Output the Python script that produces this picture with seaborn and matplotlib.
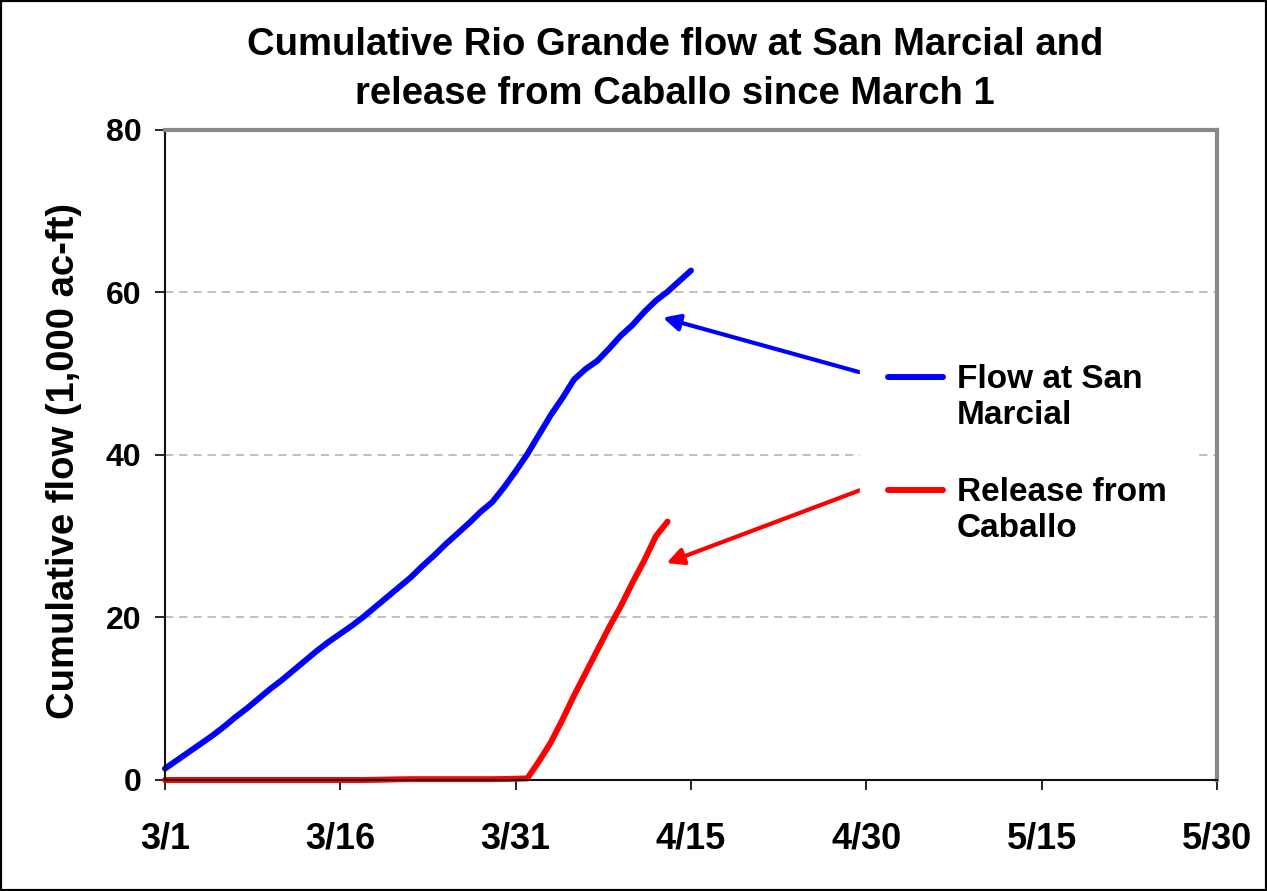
import numpy as np
import pandas as pd
import seaborn as sns
import matplotlib.pyplot as plt
from matplotlib.lines import Line2D
from matplotlib.patches import Rectangle
from matplotlib.legend_handler import HandlerLine2D

# Cumulative flow (1,000 ac-ft), days since March 1
san_marcial_days = list(range(0, 46))
san_marcial_flow = [
    1.4, 2.4, 3.4, 4.4, 5.4, 6.5, 7.7, 8.8, 10.0, 11.2,
    12.3, 13.5, 14.7, 15.9, 17.0, 18.0, 19.0, 20.1, 21.3, 22.5,
    23.7, 24.9, 26.3, 27.6, 29.0, 30.3, 31.6, 33.0, 34.2, 36.0,
    38.0, 40.1, 42.5, 44.9, 47.0, 49.3, 50.6, 51.6, 53.1, 54.7,
    56.0, 57.6, 59.0, 60.1, 61.4, 62.7,
]
caballo_days = list(range(0, 44))
caballo_release = [
    0, 0, 0, 0, 0, 0, 0, 0, 0, 0,
    0, 0, 0, 0, 0, 0, 0, 0, 0.02, 0.05,
    0.08, 0.1, 0.1, 0.1, 0.1, 0.1, 0.1, 0.1, 0.1, 0.12,
    0.15, 0.2, 2.3, 4.6, 7.4, 10.4, 13.2, 16.0, 18.8, 21.4,
    24.3, 27.0, 30.0, 31.8,
]

series_names = ["Flow at San\nMarcial", "Release from\nCaballo"]
series_colors = ["#0000ff", "#ff0000"]
x_ticks = [0, 15, 30, 45, 60, 75, 90]
x_labels = ["3/1", "3/16", "3/31", "4/15", "4/30", "5/15", "5/30"]
y_ticks = [0, 20, 40, 60, 80]

df = pd.concat([
    pd.DataFrame({"day": san_marcial_days, "flow": san_marcial_flow, "series": series_names[0]}),
    pd.DataFrame({"day": caballo_days, "flow": caballo_release, "series": series_names[1]}),
])

sns.set_style("white")
plt.rcParams["font.family"] = ["Liberation Sans", "DejaVu Sans"]
plt.rcParams["font.weight"] = "bold"
plt.rcParams["text.color"] = "black"
plt.rcParams["axes.labelcolor"] = "black"
plt.rcParams["xtick.color"] = "black"
plt.rcParams["ytick.color"] = "black"


class TopLineHandler(HandlerLine2D):
    # put the legend key next to the first line of a two-line label
    def create_artists(self, legend, orig_handle, xdescent, ydescent,
                       width, height, fontsize, trans):
        artists = super().create_artists(legend, orig_handle, xdescent, ydescent,
                                         width, height, fontsize, trans)
        for a in artists:
            a.set_ydata(np.asarray(a.get_ydata()) + 0.62 * fontsize)
        return artists


fig = plt.figure(figsize=(12.67, 8.91), dpi=100)
ax = fig.add_axes([0.1302, 0.1246, 0.8303, 0.7295])

sns.lineplot(data=df, x="day", y="flow", hue="series", hue_order=series_names,
             palette=dict(zip(series_names, series_colors)), linewidth=4.3,
             ax=ax, legend=False, clip_on=False, solid_capstyle="round")

ax.set_xlim(0, 90)
ax.set_ylim(0, 80)
ax.set_xticks(x_ticks)
ax.set_xticklabels(x_labels)
ax.set_yticks(y_ticks)
ax.tick_params(axis="x", direction="out", length=7, width=1.2, color="black",
               labelsize=26, pad=23, bottom=True)
ax.tick_params(axis="y", direction="out", length=7, width=1.2, color="black",
               labelsize=23, pad=10, left=True)
for lab in ax.get_xticklabels() + ax.get_yticklabels():
    lab.set_fontweight("bold")

ax.set_xlabel("")
ax.set_ylabel("Cumulative flow (1,000 ac-ft)", fontsize=27.5, fontweight="bold")
ax.yaxis.set_label_coords(-0.079, 0.49)

ax.yaxis.grid(True, linestyle=(0, (5, 3.5)), color="#b4b4b4", linewidth=1.2)
ax.set_axisbelow(True)

for side in ["left", "bottom"]:
    ax.spines[side].set_color("#111111")
    ax.spines[side].set_linewidth(1.5)
for side in ["top", "right"]:
    ax.spines[side].set_color("#888888")
    ax.spines[side].set_linewidth(3)

# arrows pointing at the curves
ax.annotate("", xy=(42.6, 56.9), xytext=(59.4, 50.2),
            arrowprops=dict(arrowstyle="-|>,head_length=1.0,head_width=0.5",
                            color="#0000ff", lw=3, shrinkA=0, shrinkB=0))
ax.annotate("", xy=(42.9, 26.7), xytext=(59.9, 35.9),
            arrowprops=dict(arrowstyle="-|>,head_length=1.0,head_width=0.5",
                            color="#ff0000", lw=3, shrinkA=0, shrinkB=0))

handles = [Line2D([], [], color=c, lw=4.3, solid_capstyle="round") for c in series_colors]
leg = ax.legend(handles, series_names, loc="upper left", bbox_to_anchor=(0.6606, 0.684),
                borderaxespad=0, borderpad=0.85, handlelength=1.65, handletextpad=0.4,
                labelspacing=1.4, fontsize=24, frameon=True, fancybox=False,
                facecolor="white", edgecolor="white", framealpha=1,
                handler_map={Line2D: TopLineHandler()})
for t in leg.get_texts():
    t.set_fontweight("bold")
    t.set_linespacing(1.2)

fig.text(0.533, 0.922, "Cumulative Rio Grande flow at San Marcial and\nrelease from Caballo since March 1",
         ha="center", va="center", fontsize=27.5, fontweight="bold", linespacing=1.48)

fig.add_artist(Rectangle((0, 0), 1, 1, transform=fig.transFigure, fill=False,
                         edgecolor="black", linewidth=3))

plt.savefig("out.png", dpi=100)
